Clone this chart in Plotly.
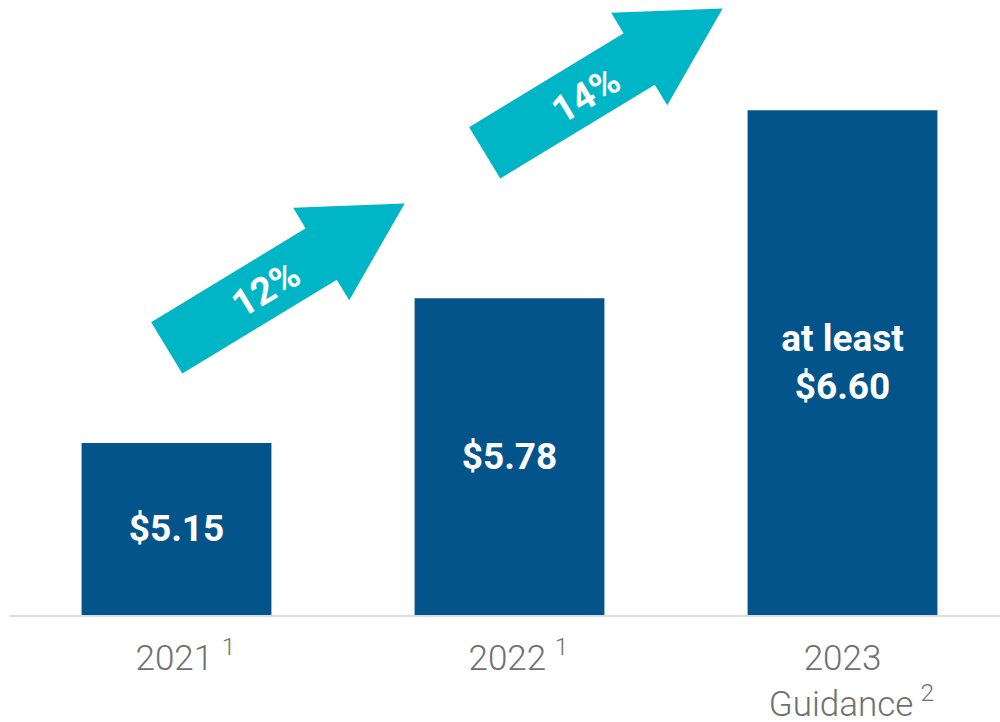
import plotly.graph_objects as go

# Adjusted EPS by year
categories = ["2021", "2022", "2023"]
tick_labels = [
    "\u20022021 <sup>1</sup>",
    "\u20022022 <sup>1</sup>",
    "2023<br>\u2002Guidance\u2009<sup>2</sup>",
]
eps_values = [5.15, 5.78, 6.60]
bar_labels = ["<b>$5.15</b>", "<b>$5.78</b>", "<b>at least<br>$6.60</b>"]
growth_labels = ["<b>12%</b>", "<b>14%</b>"]

BAR_COLOR = "#02548A"
ARROW_COLOR = "#00B5C6"
AXIS_FLOOR = 4.40
AXIS_TOP = 7.08

W, H = 1000, 722
M_L, M_R, M_T, M_B = 10, 0, 0, 107
PLOT_W = W - M_L - M_R
PLOT_H = H - M_T - M_B


def to_paper(px, py):
    """Convert figure pixel coordinates to paper coordinates."""
    return (px - M_L) / PLOT_W, (H - M_B - py) / PLOT_H


def arrow_path(tail, tip, shaft_half, head_half, head_len):
    """Closed SVG path of a block arrow from tail centre to tip (paper units)."""
    tx, ty = tail
    px, py = tip
    dx, dy = px - tx, py - ty
    length = (dx * dx + dy * dy) ** 0.5
    ux, uy = dx / length, dy / length
    nx, ny = -uy, ux
    bx, by = px - ux * head_len, py - uy * head_len
    pts = [
        (tx + nx * shaft_half, ty + ny * shaft_half),
        (bx + nx * shaft_half, by + ny * shaft_half),
        (bx + nx * head_half, by + ny * head_half),
        (px, py),
        (bx - nx * head_half, by - ny * head_half),
        (bx - nx * shaft_half, by - ny * shaft_half),
        (tx - nx * shaft_half, ty - ny * shaft_half),
    ]
    paper = [to_paper(x, y) for x, y in pts]
    return "M " + " L ".join(f"{x:.5f},{y:.5f}" for x, y in paper) + " Z"


fig = go.Figure()
fig.add_trace(
    go.Bar(
        x=categories,
        y=[v - AXIS_FLOOR for v in eps_values],
        base=[AXIS_FLOOR] * len(eps_values),
        marker=dict(color=BAR_COLOR, line=dict(width=0)),
        text=bar_labels,
        textposition="inside",
        insidetextanchor="middle",
        textangle=0,
        constraintext="none",
        textfont=dict(family="Roboto", size=37, color="white"),
        hoverinfo="skip",
    )
)

# Growth arrows between the bars
arrow_specs = [((168, 347), (402, 205)), ((486, 152), (720, 10))]
label_pos = [(266, 289), (586, 95)]
shapes = []
annotations = []
for (tail, tip), (lx, ly), text in zip(arrow_specs, label_pos, growth_labels):
    shapes.append(
        dict(
            type="path",
            xref="paper",
            yref="paper",
            path=arrow_path(tail, tip, 28.5, 51.5, 93),
            fillcolor=ARROW_COLOR,
            line=dict(color=ARROW_COLOR, width=3),
            layer="above",
        )
    )
    ax, ay = to_paper(lx, ly)
    annotations.append(
        dict(
            x=ax,
            y=ay,
            xref="paper",
            yref="paper",
            text=text,
            showarrow=False,
            textangle=-31,
            font=dict(family="Roboto", size=38, color="white"),
            xanchor="center",
            yanchor="middle",
        )
    )

fig.update_layout(
    width=W,
    height=H,
    margin=dict(l=M_L, r=M_R, t=M_T, b=M_B, autoexpand=False),
    paper_bgcolor="white",
    plot_bgcolor="white",
    bargap=0.43,
    showlegend=False,
    shapes=shapes,
    annotations=annotations,
    xaxis=dict(
        range=[-0.5, -0.5 + PLOT_W / 333.0],
        tickvals=categories,
        ticktext=tick_labels,
        tickfont=dict(family="Roboto", size=35, color="#707070", weight=300),
        ticklabelstandoff=11,
        automargin=False,
        showline=True,
        linecolor="#DCDCDC",
        linewidth=2,
        showgrid=False,
        zeroline=False,
        ticks="",
        fixedrange=True,
    ),
    yaxis=dict(
        range=[AXIS_FLOOR, AXIS_TOP],
        visible=False,
        automargin=False,
        showgrid=False,
        zeroline=False,
        fixedrange=True,
    ),
)

fig.write_html("out.html", config={"displayModeBar": False})
